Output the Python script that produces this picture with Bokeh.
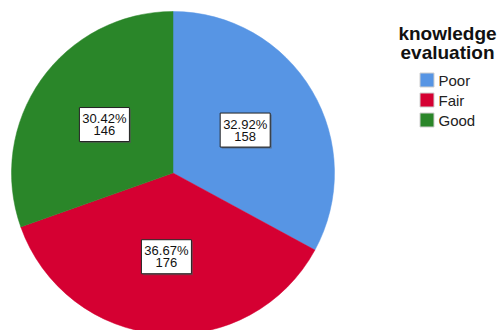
import math
from bokeh.plotting import figure
from bokeh.models import Range1d
from bokeh.core.properties import value
from bokeh.embed import file_html
from bokeh.resources import INLINE

categories = ["Poor", "Fair", "Good"]
counts = [158, 176, 146]
colors = ["#5795E4", "#D50032", "#2A8629"]
legend_title = ["knowledge", "evaluation"]

W, H = 499, 330
p = figure(width=W, height=H, output_backend="svg", toolbar_location=None,
           x_axis_type=None, y_axis_type=None,
           x_range=Range1d(0, W), y_range=Range1d(0, H), min_border=0)
p.outline_line_color = None
p.grid.visible = False
p.background_fill_color = "white"

def Y(py):
    return H - py

cx, cy, R = 172.5, Y(172.5), 161.5
total = sum(counts)
font = value("Liberation Sans")

start = math.pi / 2
mids = []
for cat, n, col in zip(categories, counts, colors):
    frac = n / total
    end = start - 2 * math.pi * frac
    p.wedge(x=[cx], y=[cy], radius=R, start_angle=[end], end_angle=[start],
            fill_color=col, line_color=col, line_width=0.5)
    mids.append((start + end) / 2)
    start = end

for cat, n, mid in zip(categories, counts, mids):
    frac = n / total
    lx = cx + 0.52 * R * math.cos(mid)
    ly = cy + 0.52 * R * math.sin(mid)
    p.rect(x=[lx + 1.5], y=[ly - 1.5], width=50, height=34, width_units="screen",
           height_units="screen", fill_color="#555555", fill_alpha=0.6, line_color=None)
    p.rect(x=[lx], y=[ly], width=50, height=34, width_units="screen",
           height_units="screen", fill_color="white", line_color="#222222", line_width=1)
    p.text(x=[lx], y=[ly + 6], text=[f"{frac*100:.2f}%"], text_font=font,
           text_font_size="13px", text_color="#111111", text_align="center",
           text_baseline="middle")
    p.text(x=[lx], y=[ly - 6], text=[str(n)], text_font=font,
           text_font_size="13px", text_color="#111111", text_align="center",
           text_baseline="middle")

# legend title
for i, t in enumerate(legend_title):
    p.text(x=[447], y=[Y(33 + 19 * i)], text=[t], text_font=font,
           text_font_size="19px", text_font_style="bold", text_color="#111111",
           text_align="center", text_baseline="middle")

for i, (cat, col) in enumerate(zip(categories, colors)):
    yy = Y(79.5 + 20 * i)
    p.rect(x=[426.5], y=[yy], width=14, height=14, width_units="screen",
           height_units="screen", fill_color=col, line_color="#cfcfcf", line_width=1)
    p.text(x=[438], y=[yy], text=[cat], text_font=font, text_font_size="15px",
           text_color="#222222", text_align="left", text_baseline="middle")

open("out.html", "w").write(file_html(p, INLINE))
